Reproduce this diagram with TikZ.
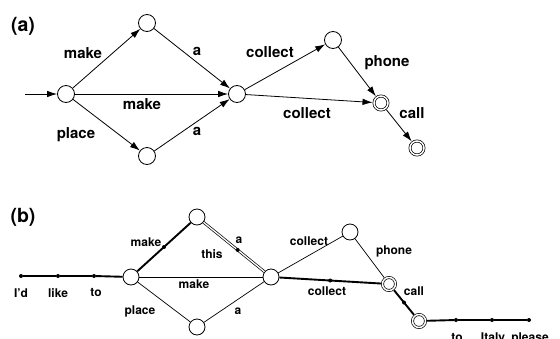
\documentclass[tikz,border=0pt]{standalone}
\usepackage{fontspec}
\setmainfont{TeX Gyre Heros}
\usetikzlibrary{arrows.meta}
\begin{document}
\begin{tikzpicture}[x=1pt,y=-1pt,
  st/.style={circle,draw,line width=0.8pt,minimum size=17pt,inner sep=0pt,fill=white},
  fin/.style={circle,draw,line width=0.7pt,double,double distance=1.5pt,
    minimum size=14pt,inner sep=0pt,outer sep=1.5pt,fill=white},
  sst/.style={st,minimum size=16pt},
  sfin/.style={fin,minimum size=13pt},
  arr/.style={line width=0.8pt,-{Latex[length=10pt,width=6.5pt]}},
  thin/.style={line width=0.7pt},
  thk/.style={line width=1.9pt},
  dbl/.style={line width=0.7pt,double,double distance=1.3pt},
  dotn/.style={circle,fill,inner sep=0pt,minimum size=4pt},
  lab/.style={font=\bfseries\fontsize{15}{17}\selectfont,inner sep=0pt},
  slab/.style={font=\bfseries\fontsize{12}{14}\selectfont,inner sep=0pt},
  ttl/.style={font=\bfseries\fontsize{19.5}{22}\selectfont,inner sep=0pt}]
\useasboundingbox (0,0) rectangle (560,338);

% ---------- (a) weighted automaton ----------
\node[ttl] (ta) at (23,26) {(a)};
\coordinate (ain) at (25,94);
\node[st] (a0) at (66,94) {};
\node[st] (a1) at (147,23) {};
\node[st] (a2) at (147,156) {};
\node[st] (a3) at (237,94) {};
\node[st] (a4) at (333,40) {};
\node[fin] (a5) at (381,103) {};
\node[fin] (a6) at (417,148) {};

\draw[arr] (ain) -- (a0);
\draw[arr] (a0) -- (a1);
\draw[arr] (a0) -- (a2);
\draw[arr] (a0) -- (a3);
\draw[arr] (a1) -- (a3);
\draw[arr] (a2) -- (a3);
\draw[arr] (a3) -- (a4);
\draw[arr] (a3) -- (a5);
\draw[arr] (a4) -- (a5);
\draw[arr] (a5) -- (a6);

\node[lab] (la1) at (83,53) {make};
\node[lab] (la2) at (197,51) {a};
\node[lab] (la3) at (142,104) {make};
\node[lab] (la4) at (76,135) {place};
\node[lab] (la5) at (197,131) {a};
\node[lab] (la6) at (270,52) {collect};
\node[lab] (la7) at (307,113) {collect};
\node[lab] (la8) at (387,63) {phone};
\node[lab] (la9) at (412,113) {call};

% ---------- (b) lattice with the chosen path in bold ----------
\node[ttl] (tb) at (23,217) {(b)};
\node[dotn] (p1) at (21,276) {};
\node[dotn] (p2) at (58,276) {};
\node[dotn] (p3) at (94,276) {};
\node[sst] (b0) at (131,277) {};
\node[sst] (b1) at (197,217) {};
\node[sst] (b2) at (197,327) {};
\node[sst] (b3) at (271,277) {};
\node[sst] (b4) at (350,232) {};
\node[sfin] (b5) at (389,284) {};
\node[sfin] (b6) at (419,321) {};
\node[dotn] (q1) at (456,320) {};
\node[dotn] (q2) at (492,320) {};
\node[dotn] (q3) at (529,320) {};

\draw[thin] (b0) -- (b3);
\draw[thin] (b0) -- (b2);
\draw[thin] (b2) -- (b3);
\draw[thin] (b3) -- (b4);
\draw[thin] (b4) -- (b5);
\draw[dbl] (b1) -- node[dotn,pos=0.56] (m2) {} (b3);
\draw[thk] (p1) -- (p2) -- (p3) -- (b0);
\draw[thk] (b0) -- node[dotn,pos=0.5] (m1) {} (b1);
\draw[thk] (b3) -- node[dotn,pos=0.5] (m3) {} (b5);
\draw[thk] (b5) -- node[dotn,pos=0.5] (m4) {} (b6);
\draw[thk] (b6) -- (q1) -- (q2) -- (q3);

\node[slab] (lb1) at (21,293) {I’d};
\node[slab] (lb2) at (58,293) {like};
\node[slab] (lb3) at (96,293) {to};
\node[slab] (lb4) at (146,242) {make};
\node[slab] (lb5) at (239,240) {a};
\node[slab] (lb6) at (212,254) {this};
\node[slab] (lb7) at (194,284) {make};
\node[slab] (lb8) at (140,311) {place};
\node[slab] (lb9) at (238,311) {a};
\node[slab] (lb10) at (309,241) {collect};
\node[slab] (lb11) at (327,291) {collect};
\node[slab] (lb12) at (394,251) {phone};
\node[slab] (lb13) at (414,291) {call};
\node[slab] (lb14) at (457,338) {to};
\node[slab] (lb15) at (493,338) {Italy};
\node[slab] (lb16) at (530,338) {please};
\end{tikzpicture}
\end{document}
